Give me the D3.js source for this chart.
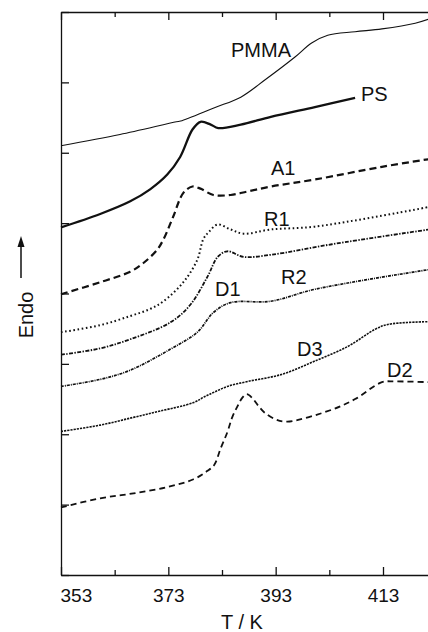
<!DOCTYPE html>
<html>
<head>
<meta charset="utf-8">
<script src="https://cdn.jsdelivr.net/npm/d3@7"></script>
<style>
    body { margin: 0; background: #fff; }
    svg text { font-family: "Liberation Sans", Arial, Helvetica, sans-serif; fill: #111; }
    .axis path, .axis line { stroke: #111; stroke-width: 1.3; }
    .trace { fill: none; stroke: #111; }
</style>
</head>
<body>
<div id="chart"></div>
<script>
// DSC traces: temperature (K) vs. heat flow (arbitrary units, offset)
var pmma = [[353, 6.10], [364, 6.26], [374.5, 6.44], [375.3, 6.45], [381.6, 6.64], [386.5, 6.79],
    [391.1, 7.04], [396.6, 7.36], [399.7, 7.56], [402.7, 7.67], [407.8, 7.72], [412.8, 7.76],
    [419, 7.84], [421.6, 7.90]];
var ps = [[353, 4.94], [360.3, 5.13], [365.9, 5.31], [369.6, 5.48], [372.8, 5.69], [375.2, 5.94],
    [377.5, 6.33], [379, 6.44], [380.9, 6.40], [382.3, 6.35], [386.5, 6.40], [392.1, 6.51],
    [400.3, 6.65], [407.8, 6.78]];
var a1 = [[353, 3.99], [360.3, 4.16], [365.9, 4.31], [368.3, 4.43], [370.9, 4.62], [372.1, 4.77],
    [373.9, 5.09], [375.8, 5.43], [377.5, 5.52], [379, 5.49], [381.4, 5.40], [384.6, 5.40],
    [387.8, 5.45], [392.1, 5.52], [400.3, 5.62], [412.8, 5.80], [421.6, 5.91]];
var r1 = [[353, 3.45], [360.3, 3.55], [365.9, 3.68], [369.6, 3.78], [372.1, 3.89], [375.8, 4.16],
    [378.4, 4.48], [379.5, 4.77], [380.5, 4.87], [382.2, 4.98], [384.6, 4.91], [387, 4.85],
    [392.1, 4.91], [400.3, 4.95], [421.6, 5.23]];
var d1 = [[353, 3.13], [360.3, 3.22], [365.9, 3.35], [373.4, 3.59], [377.1, 3.84], [380.3, 4.24],
    [382.2, 4.52], [384, 4.60], [387, 4.52], [392.1, 4.55], [403.5, 4.70], [421.6, 4.91]];
var r2 = [[353, 2.68], [360.3, 2.78], [365.9, 2.91], [373.4, 3.21], [378.4, 3.45], [381.4, 3.73],
    [384.6, 3.87], [392.1, 3.89], [400.3, 4.06], [421.6, 4.34]];
var d3trace = [[353, 2.04], [360.3, 2.13], [366.5, 2.24], [371.5, 2.33], [377.7, 2.45], [379.9, 2.54],
    [381.6, 2.60], [384, 2.68], [387.8, 2.75], [394.1, 2.85], [400.3, 3.04], [406.5, 3.25],
    [411.5, 3.49], [413.9, 3.56], [421.6, 3.60]];
var d2 = [[353, 0.96], [360.3, 1.09], [366.5, 1.16], [372.8, 1.25], [377.7, 1.36], [380.3, 1.48],
    [381.6, 1.57], [382.7, 1.79], [384, 2.03], [384.9, 2.24], [385.9, 2.40], [386.8, 2.52],
    [387.6, 2.57], [388.7, 2.51], [389.8, 2.40], [390.9, 2.31], [393, 2.21], [395.2, 2.18],
    [403.5, 2.35], [407.8, 2.50], [412.8, 2.74], [415.2, 2.75], [421.6, 2.74]];

var majorTicks = [353, 373, 393, 413];
var minorTicks = [363, 383, 403];
var yTicks = [0, 1, 2, 3, 4, 5, 6, 7, 8];

var series = [
    {name: "PMMA", data: pmma, width: 1.1, dash: null, label: [231, 7.36]},
    {name: "PS", data: ps, width: 2.3, dash: null, label: [361, 6.74]},
    {name: "A1", data: a1, width: 2.2, dash: "7,4", label: [271, 5.68]},
    {name: "R1", data: r1, width: 2, dash: "1.6,2.6", label: [264, 4.96]},
    {name: "D1", data: d1, width: 1.8, dash: "4,1.4,1.4,1.4", label: [215, 3.96]},
    {name: "R2", data: r2, width: 1.7, dash: "3,1,1,1", label: [281, 4.13]},
    {name: "D3", data: d3trace, width: 1.6, dash: "2.2,1", label: [297, 3.11]},
    {name: "D2", data: d2, width: 1.8, dash: "6,4", label: [387, 2.81]}
];

var outerWidth = 428, outerHeight = 632;
var margin = {top: 12, right: 0, bottom: 57, left: 61};
var width = outerWidth - margin.left - margin.right;
var height = outerHeight - margin.top - margin.bottom;

var svg = d3.select("#chart")
    .append("svg")
    .attr("width", outerWidth)
    .attr("height", outerHeight)
    .append("g")
    .attr("transform", "translate(" + margin.left + "," + margin.top + ")");

var xScale = d3.scaleLinear()
    .domain([353, 353 + width / ((383 - 61) / 60)])
    .range([0, width]);

var yScale = d3.scaleLinear()
    .domain([0, 8])
    .range([height, 0]);

// Bottom axis, inward ticks
var xAxis = svg.append("g")
    .attr("class", "x axis")
    .attr("transform", "translate(0," + height + ")")
    .call(d3.axisBottom(xScale)
          .tickValues(majorTicks)
          .tickSizeInner(-8)
          .tickSizeOuter(0)
          .tickPadding(14)
          .tickFormat(d3.format("d")));
xAxis.selectAll("text").style("font-size", "19px");
xAxis.selectAll(".tick").filter(d => d == 353).select("text")
    .attr("text-anchor", "start").attr("x", -1);

svg.append("g")
    .attr("class", "x axis minor")
    .attr("transform", "translate(0," + height + ")")
    .call(d3.axisBottom(xScale).tickValues(minorTicks).tickSizeInner(-5).tickSizeOuter(0).tickFormat(""))
    .select(".domain").remove();

// Top axis
svg.append("g")
    .attr("class", "x axis")
    .call(d3.axisTop(xScale).tickValues(majorTicks).tickSizeInner(-8).tickSizeOuter(0).tickFormat(""));
svg.append("g")
    .attr("class", "x axis minor")
    .call(d3.axisTop(xScale).tickValues(minorTicks).tickSizeInner(-5).tickSizeOuter(0).tickFormat(""))
    .select(".domain").remove();

// Left axis
svg.append("g")
    .attr("class", "y axis")
    .call(d3.axisLeft(yScale).tickValues(yTicks).tickSizeInner(-8).tickSizeOuter(0).tickFormat(""));

// Traces
var line = d3.line()
    .x(d => xScale(d[0]))
    .y(d => yScale(d[1]))
    .curve(d3.curveCatmullRom.alpha(0.5));

svg.selectAll("path.trace")
    .data(series)
    .enter().append("path")
    .attr("class", "trace")
    .attr("d", d => line(d.data))
    .attr("stroke-width", d => d.width)
    .attr("stroke-dasharray", d => d.dash);

svg.selectAll("text.label")
    .data(series)
    .enter().append("text")
    .attr("class", "label")
    .attr("x", d => d.label[0] - margin.left)
    .attr("y", d => yScale(d.label[1]))
    .style("font-size", "20px")
    .text(d => d.name);

// Axis titles
svg.append("text")
    .attr("x", 242 - margin.left)
    .attr("y", 629 - margin.top)
    .attr("text-anchor", "middle")
    .style("font-size", "20px")
    .text("T / K");

svg.append("text")
    .attr("transform", "translate(" + (33 - margin.left) + "," + (315 - margin.top) + ") rotate(-90)")
    .attr("text-anchor", "middle")
    .style("font-size", "20px")
    .text("Endo");

// Endo arrow
svg.append("line")
    .attr("x1", 21 - margin.left).attr("x2", 21 - margin.left)
    .attr("y1", 278 - margin.top).attr("y2", 246 - margin.top)
    .attr("stroke", "#111").attr("stroke-width", 1.5);
svg.append("path")
    .attr("d", "M" + (21 - margin.left) + "," + (236 - margin.top) + "l-3.5,11h7z")
    .attr("fill", "#111");
</script>
</body>
</html>
